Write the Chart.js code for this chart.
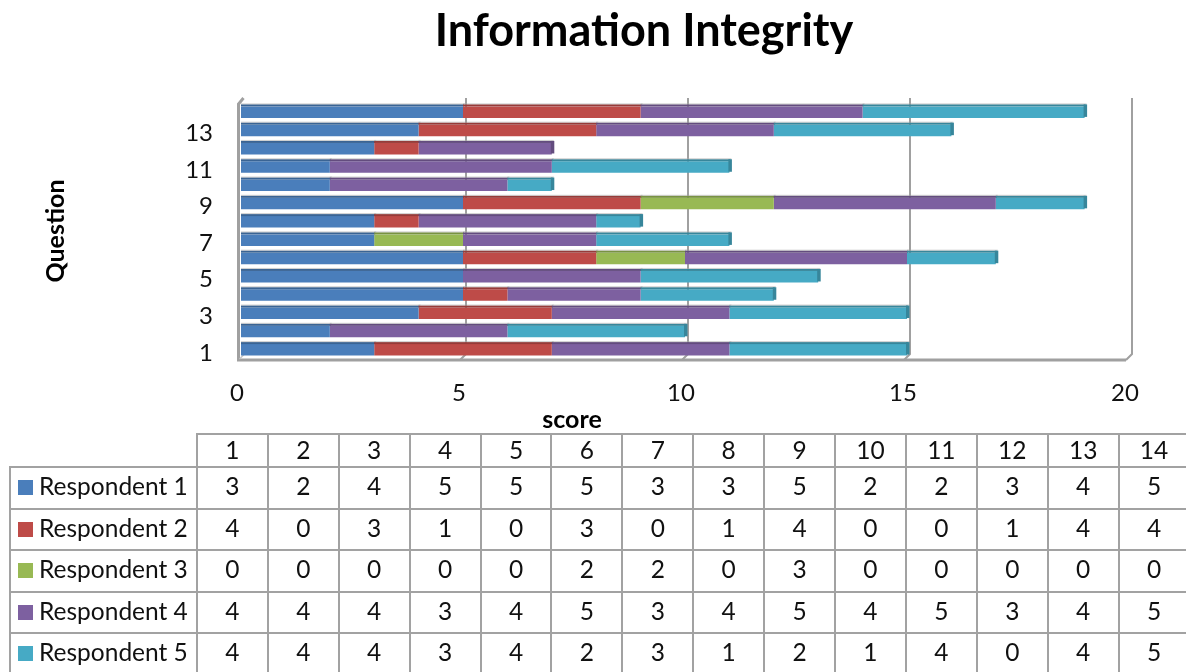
<!DOCTYPE html>
<html><head><meta charset="utf-8">
<script src="https://cdn.jsdelivr.net/npm/chart.js@4"></script>
<style>
html,body{margin:0;padding:0;background:#fff;width:1186px;height:672px;overflow:hidden}
canvas{position:absolute;left:0;top:0}
#tbl{position:absolute;left:9px;top:433px;border-collapse:collapse;table-layout:fixed;width:1180px;font-family:Lato,sans-serif;font-size:24.5px;color:#111}
#tbl td{border:2px solid #a2a2a2;padding:0 0 4px 0;text-align:center;box-sizing:border-box;line-height:28px}
#tbl tr:first-child td{padding-bottom:1px}
#tbl td.blank{border-top:none;border-left:none}
#tbl td.name{text-align:left;white-space:nowrap}
#tbl .key{display:inline-block;width:15px;height:15px;margin:0 6px 0 7px;vertical-align:0}
</style></head><body>
<canvas id="c" width="1186" height="672"></canvas>
<table id="tbl"></table>
<script>
const categories=['1','2','3','4','5','6','7','8','9','10','11','12','13','14'];
const respondent1=[3,2,4,5,5,5,3,3,5,2,2,3,4,5];
const respondent2=[4,0,3,1,0,3,0,1,4,0,0,1,4,4];
const respondent3=[0,0,0,0,0,2,2,0,3,0,0,0,0,0];
const respondent4=[4,4,4,3,4,5,3,4,5,4,5,3,4,5];
const respondent5=[4,4,4,3,4,2,3,1,2,1,4,0,4,5];
const seriesNames=['Respondent 1','Respondent 2','Respondent 3','Respondent 4','Respondent 5'];
const seriesValues=[respondent1,respondent2,respondent3,respondent4,respondent5];
const seriesColors=['#4a7ebb','#be4b48','#98b954','#7d60a0','#46aac5'];
const seriesDark=['#3a6494','#963b39','#789242','#634c7e','#37869b'];
const xTicks=[0,5,10,15,20];

const GRID='#a0a0a0';
const depth3d={
  id:'depth3d',
  afterLayout(chart){
    // the title and the x axis title sit left of / off the plot centre in the reference
    chart.titleBlock.left=102;chart.titleBlock.right=1186;
    const s=chart.scales.x,orig=s.drawTitle;
    s.drawTitle=function(){const c=chart.ctx;c.save();c.translate(-113,0);orig.call(s);c.restore();};
  },
  beforeDatasetsDraw(chart){
    const c=chart.ctx,x=chart.scales.x,a=chart.chartArea;
    const backTop=a.top-5,backBottom=a.bottom-5,front=a.bottom+1;
    c.save();c.strokeStyle=GRID;c.lineWidth=2;
    xTicks.slice(1).forEach(v=>{
      const p=x.getPixelForValue(v)+3;
      c.beginPath();c.moveTo(p,backTop);c.lineTo(p,backBottom);c.lineTo(p-6,front);c.stroke();
    });
    const l=x.getPixelForValue(0)-2.5;
    c.lineWidth=3;
    c.beginPath();c.moveTo(l+5,backTop);c.lineTo(l,backTop+6);c.lineTo(l,front);c.lineTo(x.getPixelForValue(20)-3,front);c.stroke();
    c.lineWidth=1.5;c.strokeStyle='#c4c4c4';
    c.beginPath();c.moveTo(l+1,front-1);c.lineTo(l+6,backBottom);c.stroke();
    c.restore();
  },
  afterDatasetsDraw(chart){
    const c=chart.ctx;c.save();
    categories.forEach((_,i)=>{
      let last=-1;
      seriesValues.forEach((s,d)=>{
        if(!s[i])return;
        const b=chart.getDatasetMeta(d).data[i],t=b.y-b.height/2;
        c.fillStyle=seriesDark[d];
        c.fillRect(Math.min(b.base,b.x),t-2,Math.abs(b.x-b.base)+1,2);
        c.fillStyle='rgba(170,170,170,.55)';
        c.fillRect(Math.min(b.base,b.x),t-3,Math.abs(b.x-b.base)+2,1);
        last=d;
      });
      if(last>=0){
        const b=chart.getDatasetMeta(last).data[i],t=b.y-b.height/2;
        c.fillStyle=seriesDark[last];
        c.fillRect(b.x-1,t-2,3.5,b.height+1);
      }
    });
    c.restore();
  }
};

new Chart(document.getElementById('c'),{
  type:'bar',
  data:{labels:categories,datasets:seriesNames.map((n,i)=>({
    label:n,data:seriesValues[i],backgroundColor:seriesColors[i],borderWidth:0,
    barPercentage:0.63,categoryPercentage:1
  }))},
  plugins:[depth3d],
  options:{
    indexAxis:'y',responsive:false,animation:false,
    layout:{padding:{left:41,right:57,top:4,bottom:237}},
    plugins:{
      legend:{display:false},tooltip:{enabled:false},
      title:{display:true,text:'Information Integrity',color:'#000',align:'center',
        font:{family:'Lato',size:45,weight:'bold'},padding:{top:0,bottom:45},
        position:'top'}
    },
    scales:{
      x:{stacked:true,min:0,max:20,position:'bottom',
        grid:{display:false},border:{display:false},
        afterFit(s){s.height=76;},
        ticks:{stepSize:5,color:'#111',padding:12,labelOffset:-4,maxRotation:0,font:{family:'Lato',size:24}},
        title:{display:true,text:'score',color:'#000',padding:{top:4,bottom:0},font:{family:'Lato',size:25,weight:'bold'}}
      },
      y:{stacked:true,reverse:true,
        grid:{display:false},border:{display:false},
        afterFit(s){s.width=200;},
        ticks:{autoSkip:false,color:'#111',padding:20,labelOffset:3,font:{family:'Lato',size:24},
          callback(v,i){return i%2===0?categories[i]:'';}},
        title:{display:true,text:'Question',color:'#000',padding:{top:0,bottom:0},font:{family:'Lato',size:25,weight:'bold'}}
      }
    }
  }
});

const tbl=document.getElementById('tbl');
const rowH=[33,42,41,42,41,41];
const colgroup=document.createElement('colgroup');
[187].concat(categories.map(()=>70.9)).forEach(w=>{const e=document.createElement('col');e.style.width=w+'px';colgroup.appendChild(e);});
tbl.appendChild(colgroup);
const head=tbl.insertRow();head.style.height=rowH[0]+'px';
const blank=head.insertCell();blank.className='blank';
categories.forEach(k=>{head.insertCell().textContent=k;});
seriesNames.forEach((n,i)=>{
  const r=tbl.insertRow();r.style.height=rowH[i+1]+'px';
  const d=r.insertCell();d.className='name';
  const key=document.createElement('span');key.className='key';key.style.background=seriesColors[i];
  d.appendChild(key);d.appendChild(document.createTextNode(n));
  seriesValues[i].forEach(v=>{r.insertCell().textContent=v;});
});
</script>
</body></html>
